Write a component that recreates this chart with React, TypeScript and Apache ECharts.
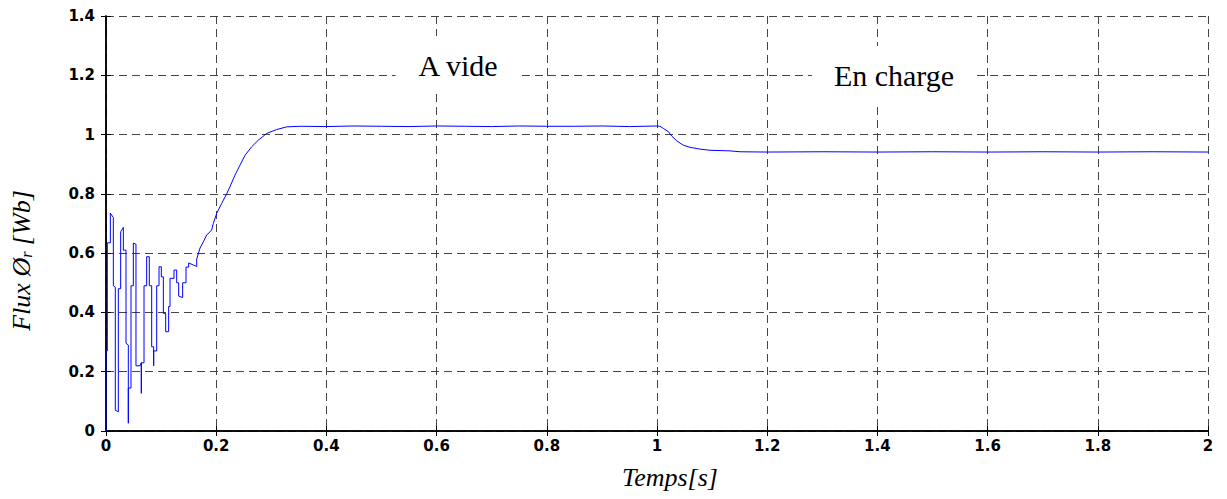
import React, { useEffect, useRef } from "react";
import * as echarts from "echarts";

// Time axis [s]
const tData: number[] = [
  0, 0, 0.0024, 0.0024, 0.0079, 0.0079, 0.0133, 0.0133, 0.0169, 0.0169,
  0.0224, 0.0224, 0.0266, 0.0266, 0.0315, 0.0315, 0.0363, 0.0363, 0.0405, 0.0405,
  0.0405, 0.0454, 0.0454, 0.0496, 0.0496, 0.0544, 0.0544, 0.0617, 0.0641, 0.0641,
  0.0641, 0.069, 0.069, 0.0738, 0.0738, 0.0786, 0.0786, 0.0829, 0.0829, 0.0865,
  0.0865, 0.0865, 0.092, 0.092, 0.0962, 0.0962, 0.1004, 0.1004, 0.1041, 0.1041,
  0.1083, 0.1083, 0.1137, 0.1137, 0.1162, 0.1162, 0.1234, 0.1234, 0.1283, 0.1283,
  0.1319, 0.1319, 0.1391, 0.1391, 0.1452, 0.1452, 0.15, 0.15, 0.1585, 0.1646,
  0.1646, 0.1706, 0.1766, 0.1828, 0.1918, 0.1947, 0.2009, 0.21, 0.219, 0.225,
  0.2341, 0.2432, 0.2523, 0.2644, 0.2764, 0.2917, 0.3098, 0.328, 0.352, 0.4,
  0.45, 0.5, 0.55, 0.6, 0.65, 0.7, 0.75, 0.8, 0.85, 0.9,
  0.95, 1.0, 1.0054, 1.0114, 1.0205, 1.0267, 1.0358, 1.0477, 1.0599, 1.078,
  1.0962, 1.1325, 1.1506, 1.2, 1.3, 1.4, 1.5, 1.6, 1.7, 1.8,
  1.9, 2.0,
];

// Rotor flux [Wb]
const fluxData: number[] = [
  0, 0.27, 0.27, 0.635, 0.635, 0.735, 0.72, 0.49, 0.485, 0.07,
  0.065, 0.48, 0.48, 0.672, 0.687, 0.61, 0.61, 0.296, 0.29, 0.026,
  0.145, 0.145, 0.49, 0.49, 0.634, 0.63, 0.22, 0.22, 0.23, 0.127,
  0.23, 0.23, 0.49, 0.49, 0.588, 0.588, 0.49, 0.49, 0.284, 0.284,
  0.22, 0.27, 0.27, 0.49, 0.49, 0.554, 0.554, 0.52, 0.52, 0.397,
  0.397, 0.335, 0.335, 0.42, 0.42, 0.515, 0.515, 0.543, 0.543, 0.5,
  0.5, 0.455, 0.45, 0.5, 0.5, 0.553, 0.553, 0.567, 0.56, 0.555,
  0.58, 0.617, 0.638, 0.661, 0.678, 0.7, 0.734, 0.768, 0.8, 0.824,
  0.863, 0.897, 0.93, 0.959, 0.981, 1.004, 1.017, 1.026, 1.028, 1.027,
  1.029, 1.028, 1.027, 1.029, 1.028, 1.027, 1.029, 1.028, 1.028, 1.029,
  1.027, 1.029, 1.028, 1.021, 1.01, 0.995, 0.979, 0.964, 0.957, 0.951,
  0.947, 0.945, 0.942, 0.941, 0.942, 0.941, 0.942, 0.941, 0.942, 0.941,
  0.942, 0.941,
];

const xTicks = { min: 0, max: 2, interval: 0.2 };
const yTicks = { min: 0, max: 1.4, interval: 0.2 };

const xName = "Temps[s]";
const annotations = [
  { text: "A vide", x: 458, y: 65 },
  { text: "En charge", x: 894, y: 75 },
];

export default function App() {
  const ref = useRef<HTMLDivElement>(null);

  useEffect(() => {
    if (!ref.current) return;
    const chart = echarts.init(ref.current, null, { renderer: "svg" });
    const seriesData = tData.map((t, i) => [t, fluxData[i]]);

    const labelStyle = {
      fontFamily: "DejaVu Sans",
      fontWeight: "bold" as const,
      fontSize: 15,
      color: "#000",
    };
    const splitLine = {
      show: true,
      lineStyle: { color: "#444", width: 1, type: [8, 5] as any },
    };
    const axisLine = { show: true, lineStyle: { color: "#000", width: 1.5 } };
    const axisTick = {
      show: true,
      inside: true,
      length: 5,
      lineStyle: { color: "#000", width: 1 },
    };

    chart.setOption({
      animation: false,
      backgroundColor: "#fff",
      grid: { left: 106, right: 19, top: 16, bottom: 68, containLabel: false },
      xAxis: [
        {
          type: "value",
          ...xTicks,
          position: "bottom",
          axisLine,
          axisTick,
          splitLine,
          axisLabel: { ...labelStyle, margin: 7 },
          name: xName,
          nameLocation: "middle",
          nameGap: 33,
          nameTextStyle: {
            fontFamily: "Liberation Serif",
            fontStyle: "italic",
            fontSize: 26,
            color: "#000",
            padding: [0, 0, 0, 26],
          },
        },
        {
          type: "value",
          ...xTicks,
          position: "top",
          axisLine,
          axisTick,
          splitLine: { show: false },
          axisLabel: { show: false },
        },
      ],
      yAxis: [
        {
          type: "value",
          ...yTicks,
          position: "left",
          axisLine,
          axisTick,
          splitLine,
          axisLabel: { ...labelStyle, margin: 11 },
          name: "{i|Flux Ø}{s|r}{i| [Wb]}",
          nameLocation: "middle",
          nameGap: 72,
          nameTextStyle: {
            padding: [0, 74, 0, 0],
            rich: {
              i: {
                fontFamily: "Liberation Serif",
                fontStyle: "italic",
                fontSize: 26,
                color: "#000",
              },
              s: {
                fontFamily: "Liberation Serif",
                fontStyle: "italic",
                fontSize: 16,
                color: "#000",
                verticalAlign: "bottom",
              },
            },
          },
        },
        {
          type: "value",
          ...yTicks,
          position: "right",
          axisLine,
          axisTick,
          splitLine: { show: false },
          axisLabel: { show: false },
        },
      ],
      graphic: annotations.map((a) => ({
        type: "text",
        x: a.x,
        y: a.y,
        z: 100,
        style: {
          text: a.text,
          fontFamily: "Liberation Serif",
          fontSize: 30,
          fill: "#000",
          align: "center",
          verticalAlign: "middle",
          backgroundColor: "#fff",
          padding: [14, 22],
        },
      })),
      series: [
        {
          type: "line",
          data: seriesData,
          showSymbol: false,
          symbol: "none",
          lineStyle: { color: "#0000ff", width: 1 },
          z: 5,
        },
      ],
    });

    return () => chart.dispose();
  }, []);

  return (
    <div
      ref={ref}
      style={{ position: "fixed", left: 0, top: 0, width: 1227, height: 499 }}
    />
  );
}
